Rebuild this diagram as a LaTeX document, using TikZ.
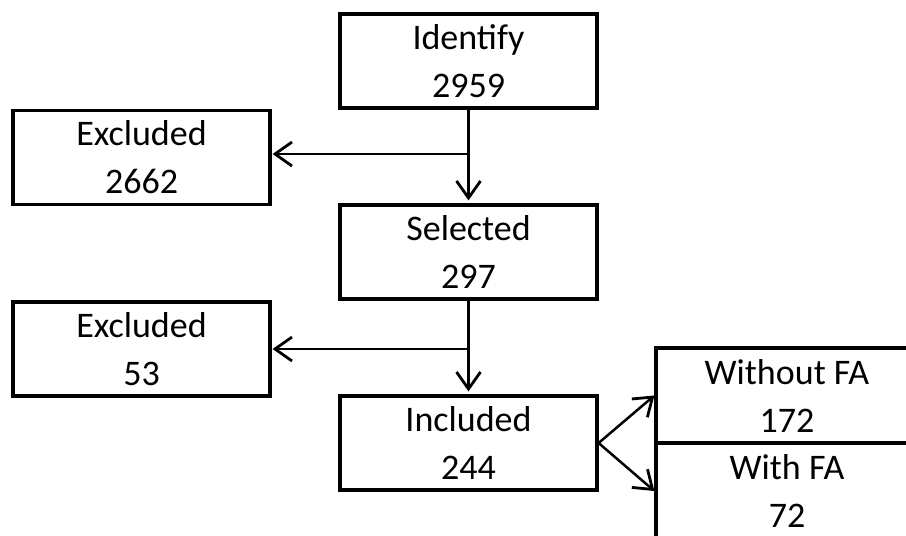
\documentclass[tikz,border=0pt]{standalone}
\usepackage{fontspec}
\setmainfont{Carlito}
\usetikzlibrary{arrows.meta}
\begin{document}
\begin{tikzpicture}[x=1pt,y=-1pt,
  box/.style={draw=black, line width=3.2pt, fill=white, align=center,
    inner sep=0pt, font=\fontsize{36}{48}\selectfont, text=black},
  midbox/.style={box, minimum width=257pt, minimum height=94pt},
  conn/.style={line width=2.5pt, draw=black, -{Straight Barb[length=17pt,width=24pt,line width=2.8pt]}}]
\useasboundingbox (0,0) rectangle (906,536);
\clip (0,0) rectangle (906,536);
\node[midbox] (identify) at (468.5,61) {Identify\\2959};
\node[midbox] (excl1) at (141.5,157.5) {Excluded\\2662};
\node[midbox] (selected) at (468.5,252) {Selected\\297};
\node[midbox] (excl2) at (141.5,349) {Excluded\\53};
\node[midbox] (included) at (468.5,443) {Included\\244};
\node[box, minimum width=262pt, minimum height=95pt] (wofa) at (787,395.5) {Without FA\\172};
\node[box, minimum width=262pt, minimum height=96pt] (wfa) at (787,491) {With FA\\72};
\coordinate (j1) at (identify.south |- 0,154);
\coordinate (j2) at (selected.south |- 0,349);
\draw[conn, shorten >=3pt] (identify.south) -- (selected.north);
\draw[conn, shorten >=1pt] (j1) -- (j1 -| excl1.east);
\draw[conn, shorten >=3pt] (selected.south) -- (included.north);
\draw[conn, shorten >=1pt] (j2) -- (j2 -| excl2.east);
\draw[conn] (included.east) -- (wofa.west);
\draw[conn] (included.east) -- (wfa.west);
\end{tikzpicture}
\end{document}
